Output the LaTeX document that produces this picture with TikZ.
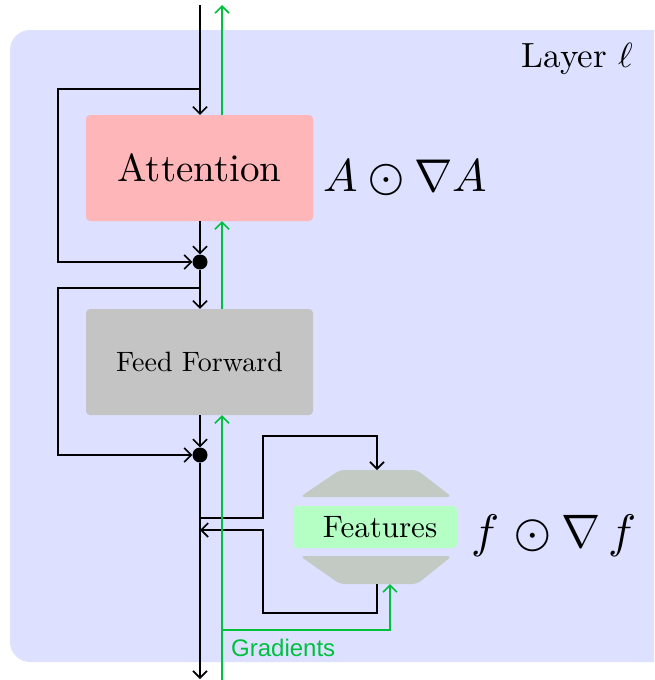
\documentclass[tikz,border=0pt]{standalone}
\usepackage{unicode-math}
\setmainfont{lmroman10-regular.otf}[ItalicFont=lmroman10-italic.otf]
\setmathfont{Latin Modern Math}
\newfontfamily\gradfont{Liberation Sans}
\usetikzlibrary{arrows.meta}
\definecolor{bgblue}{HTML}{DDE0FF}
\definecolor{attpink}{HTML}{FFB6B8}
\definecolor{ffgray}{HTML}{C4C4C4}
\definecolor{trapgray}{HTML}{C3C9C3}
\definecolor{featgreen}{HTML}{B5FFC4}
\definecolor{gradgreen}{HTML}{00C040}
\tikzset{
  conn/.style={line width=1.6pt,-{Straight Barb[length=7pt,width=14pt,line width=1.6pt]}},
  gconn/.style={conn,draw=gradgreen},
  blockbox/.style={rectangle,rounded corners=4pt,inner sep=0pt},
  dotnode/.style={circle,fill=black,inner sep=0pt,minimum size=15pt},
}
\begin{document}
\begin{tikzpicture}[x=1pt,y=-1pt]
\useasboundingbox (0,0) rectangle (654,680);
\begin{scope}
\clip (0,0) rectangle (654,680);
\fill[bgblue,rounded corners=20pt] (10,30) rectangle (680,662);
\end{scope}
\node[anchor=base east,font=\fontsize{35}{40}\selectfont] (layer) at (637,67) {Layer $\ell$};

% blocks
\node[blockbox,fill=attpink,minimum width=227pt,minimum height=106pt,font=\fontsize{39}{44}\selectfont] (att) at (199.5,168) {Attention};
\node[blockbox,fill=ffgray,minimum width=227pt,minimum height=106pt,font=\fontsize{28}{32}\selectfont] (ff) at (199.5,362) {Feed Forward};
\node[anchor=base west,font=\fontsize{46}{50}\selectfont] (alab) at (320,191) {$A\odot\nabla A$};

\node[dotnode] (d1) at (200,262) {};
\node[dotnode] (d2) at (200,455) {};

% features
\fill[trapgray,rounded corners=5pt] (340,470) -- (417,470) -- (452,497) -- (300,497) -- cycle;
\fill[trapgray,rounded corners=5pt] (300,556) -- (452,556) -- (417,584) -- (340,584) -- cycle;
\node[blockbox,fill=featgreen,minimum width=164pt,minimum height=42pt] (feat) at (375,527) {};
\node[font=\fontsize{31}{35}\selectfont] (featlbl) at (380,527) {Features};
\node[anchor=base west,font=\fontsize{47}{52}\selectfont] (flab) at (468,547) {$f\mkern2mu\odot\nabla\mkern3mu f$};
\coordinate (ftop) at (377,470);
\coordinate (fbot) at (377,584);
\coordinate (fgin) at (390,584);

% main black path
\coordinate (top) at (200,5);
\coordinate (bottom) at (200,679);
\draw[conn] (top) -- (top|-att.north);
\draw[conn] (att.south-|d1) -- (d1.north);
\draw[conn] (d1) -- (d1|-ff.north);
\draw[conn] (ff.south-|d2) -- (d2.north);
\draw[conn] (d2) -- (bottom);

% residual loops
\coordinate (s1) at (200,89);
\coordinate (l1) at (58,89);
\draw[conn] (s1) -- (l1) |- (d1.west);
\coordinate (s2) at (200,288);
\coordinate (l2) at (58,288);
\draw[conn] (s2) -- (l2) |- (d2.west);

% features branch
\coordinate (b1) at (200,518);
\coordinate (b2) at (263,518);
\coordinate (b3) at (263,436);
\draw[conn] (b1) -- (b2) -- (b3) -| (ftop);
\coordinate (r1) at (377,613);
\coordinate (r2) at (263,613);
\coordinate (r3) at (263,530);
\coordinate (r4) at (200,530);
\draw[conn] (fbot) -- (r1) -- (r2) -- (r3) -- (r4);

% gradients
\coordinate (gtop) at (222,5);
\coordinate (gbot) at (222,680);
\draw[gconn] (att.north-|gtop) -- (gtop);
\draw[gconn] (ff.north-|gtop) -- (att.south-|gtop);
\draw[gconn] (gbot) -- (ff.south-|gtop);
\coordinate (g1) at (222,630);
\draw[gconn] (g1) -| (fgin);
\node[anchor=west,text=gradgreen,font=\gradfont\fontsize{24}{27}\selectfont,inner sep=0pt] (gradlbl) at (231,648) {Gradients};
\end{tikzpicture}
\end{document}
